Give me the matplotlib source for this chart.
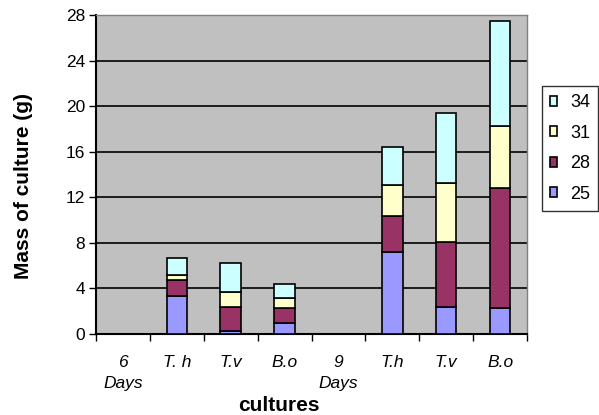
import numpy as np
import matplotlib.pyplot as plt
from matplotlib.patches import Patch

plt.rcParams['font.family'] = ['Liberation Sans', 'DejaVu Sans']

# cultures at 6 and 9 days
labels = ['6\nDays', 'T. h', 'T.v', 'B.o', '9\nDays', 'T.h', 'T.v', 'B.o']
temps = ['25', '28', '31', '34']
m25 = [0, 3.3, 0.3, 1.0, 0, 7.2, 2.4, 2.25]
m28 = [0, 1.4, 2.1, 1.25, 0, 3.2, 5.7, 10.6]
m31 = [0, 0.5, 1.3, 0.9, 0, 2.65, 5.15, 5.45]
m34 = [0, 1.45, 2.5, 1.25, 0, 3.4, 6.15, 9.2]
colors = ['#9999FF', '#993366', '#FFFFCC', '#CCFFFF']

fig = plt.figure(figsize=(5.99, 4.15), dpi=100)
ax = fig.add_axes([96/599, 1 - 334/415, 431/599, 319/415])
ax.set_facecolor('#C0C0C0')

x = np.arange(len(labels))
bottom = np.zeros(len(labels))
for vals, c in zip([m25, m28, m31, m34], colors):
    vals = np.array(vals)
    keep = vals > 0
    ax.bar(x[keep], vals[keep], 0.38, bottom=bottom[keep], color=c,
           edgecolor='black', linewidth=1.2, zorder=3)
    bottom += vals

ax.set_ylim(0, 28)
ax.set_xlim(-0.5, len(labels) - 0.5)
ax.set_yticks(range(0, 29, 4))
ax.yaxis.grid(True, color='black', linewidth=1.2, zorder=1)
ax.tick_params(axis='y', labelsize=12.5, length=5, width=1, direction='out', pad=3)

# category labels centred, ticks on the boundaries
ax.set_xticks(np.arange(-0.5, len(labels)), minor=False)
ax.set_xticklabels([])
ax.set_xticks(x, minor=True)
ax.set_xticklabels(labels, minor=True, fontstyle='italic', fontsize=12.5,
                   linespacing=1.5, va='top')
ax.tick_params(axis='x', which='major', length=5, width=1, direction='out')
ax.tick_params(axis='x', which='minor', length=0, pad=15)

for s in ['left', 'bottom']:
    ax.spines[s].set_color('black')
    ax.spines[s].set_linewidth(1.5)
for s in ['top', 'right']:
    ax.spines[s].set_color('#808080')
    ax.spines[s].set_linewidth(1)

fig.text(23.5/599, 1 - 186/415, 'Mass of culture (g)', rotation=90,
         ha='center', va='center', fontsize=15, fontweight='bold')
fig.text(279/599, 1 - 411/415, 'cultures', ha='center', va='baseline',
         fontsize=15, fontweight='bold')

handles = [Patch(facecolor=c, edgecolor='black', linewidth=1.2, label=t)
           for c, t in zip(colors, temps)][::-1]
leg = fig.legend(handles=handles, loc='upper left',
                 bbox_to_anchor=(542/599, 1 - 86/415), fontsize=13,
                 frameon=True, fancybox=False, edgecolor='black',
                 handlelength=0.4, handleheight=0.45, handletextpad=0.7,
                 labelspacing=0.75, borderpad=0.45, borderaxespad=0)
leg.get_frame().set_linewidth(1)

fig.savefig('out.png', dpi=100)
